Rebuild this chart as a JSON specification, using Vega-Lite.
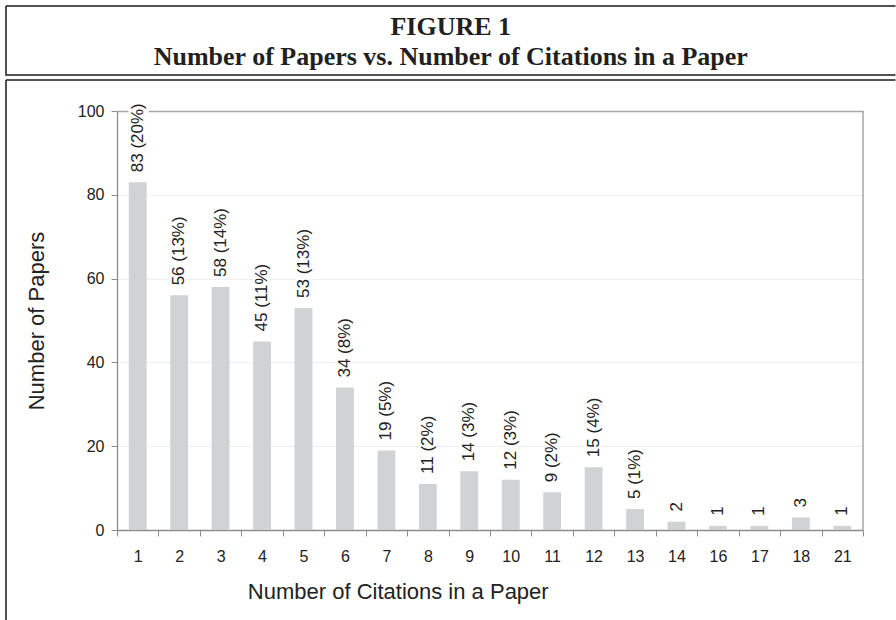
{
  "$schema": "https://vega.github.io/schema/vega-lite/v6.json",
  "padding": {"left": 5, "top": 5, "right": 0, "bottom": 0},
  "spacing": 3,
  "config": {
    "font": "Liberation Sans",
    "view": {"stroke": "#1a1a1a", "strokeWidth": 1.5}
  },
  "vconcat": [
    {
      "width": 889.5,
      "height": 69,
      "view": {"strokeDash": [889.5, 69, 958.5, 0]},
      "data": {"values": [
        {"line": "FIGURE 1", "row": 1},
        {"line": "Number of Papers vs. Number of Citations in a Paper", "row": 2}
      ]},
      "mark": {"type": "text", "font": "Liberation Serif", "fontWeight": "bold", "fontSize": 26, "baseline": "alphabetic", "color": "#231f20"},
      "encoding": {
        "y": {"field": "row", "type": "quantitative", "scale": {"domain": [1, 2], "range": [29, 59], "nice": false, "zero": false}, "axis": null},
        "text": {"field": "line"}
      }
    },
    {
      "width": 889.5,
      "height": 540,
      "view": {"strokeDash": [889.5, 1429.5, 540, 0]},
      "data": {"values": [
        {"c": 1, "n": 83, "label": "83 (20%)"},
        {"c": 2, "n": 56, "label": "56 (13%)"},
        {"c": 3, "n": 58, "label": "58 (14%)"},
        {"c": 4, "n": 45, "label": "45 (11%)"},
        {"c": 5, "n": 53, "label": "53 (13%)"},
        {"c": 6, "n": 34, "label": "34 (8%)"},
        {"c": 7, "n": 19, "label": "19 (5%)"},
        {"c": 8, "n": 11, "label": "11 (2%)"},
        {"c": 9, "n": 14, "label": "14 (3%)"},
        {"c": 10, "n": 12, "label": "12 (3%)"},
        {"c": 11, "n": 9, "label": "9 (2%)"},
        {"c": 12, "n": 15, "label": "15 (4%)"},
        {"c": 13, "n": 5, "label": "5 (1%)"},
        {"c": 14, "n": 2, "label": "2"},
        {"c": 16, "n": 1, "label": "1"},
        {"c": 17, "n": 1, "label": "1"},
        {"c": 18, "n": 3, "label": "3"},
        {"c": 21, "n": 1, "label": "1"}
      ]},
      "encoding": {
        "x": {
          "field": "c", "type": "ordinal",
          "scale": {"range": [111, 857], "paddingInner": 0, "paddingOuter": 0},
          "axis": {
            "title": "Number of Citations in a Paper",
            "offset": -90,
            "tickBand": "extent",
            "labelAngle": 0,
            "tickSize": 6,
            "tickColor": "#8c8c8c",
            "domainColor": "#8c8c8c",
            "domainWidth": 1.3,
            "labelFontSize": 16,
            "labelColor": "#222222",
            "labelPadding": 12,
            "titleFontSize": 22,
            "titleFontWeight": "normal",
            "titleColor": "#222222",
            "titlePadding": 17,
            "titleX": 391.75,
            "grid": false
          }
        },
        "y": {
          "field": "n", "type": "quantitative",
          "scale": {"domain": [0, 100], "range": [450, 31], "nice": false},
          "axis": {
            "title": "Number of Papers",
            "offset": -111,
            "values": [0, 20, 40, 60, 80, 100],
            "tickSize": 6,
            "tickColor": "#8c8c8c",
            "domainColor": "#8c8c8c",
            "domainWidth": 1.3,
            "labelFontSize": 16,
            "labelColor": "#222222",
            "labelPadding": 7,
            "titleFontSize": 22,
            "titleFontWeight": "normal",
            "titleColor": "#222222",
            "titlePadding": 29,
            "grid": true,
            "gridColor": {"condition": {"test": "datum.value === 100", "value": "#a6a6a6"}, "value": "#eeeeee"},
            "gridWidth": {"condition": {"test": "datum.value === 100", "value": 1.5}, "value": 1}
          }
        }
      },
      "layer": [
        {"mark": {"type": "bar", "color": "#d1d2d4", "width": {"band": 0.43}}},
        {
          "data": {"values": [{"edge": 21, "low": 0, "high": 100}]},
          "mark": {"type": "rule", "color": "#a6a6a6", "strokeWidth": 1.5},
          "encoding": {
            "x": {"field": "edge", "type": "ordinal", "bandPosition": 1},
            "y": {"field": "low", "type": "quantitative"},
            "y2": {"field": "high"}
          }
        },
        {
          "mark": {"type": "text", "angle": 270, "align": "left", "baseline": "middle", "dx": 10, "fontSize": 17, "color": "white", "stroke": "white", "strokeWidth": 5},
          "encoding": {"text": {"field": "label"}}
        },
        {
          "mark": {"type": "text", "angle": 270, "align": "left", "baseline": "middle", "dx": 10, "fontSize": 17, "color": "#222222"},
          "encoding": {"text": {"field": "label"}}
        }
      ]
    }
  ]
}
